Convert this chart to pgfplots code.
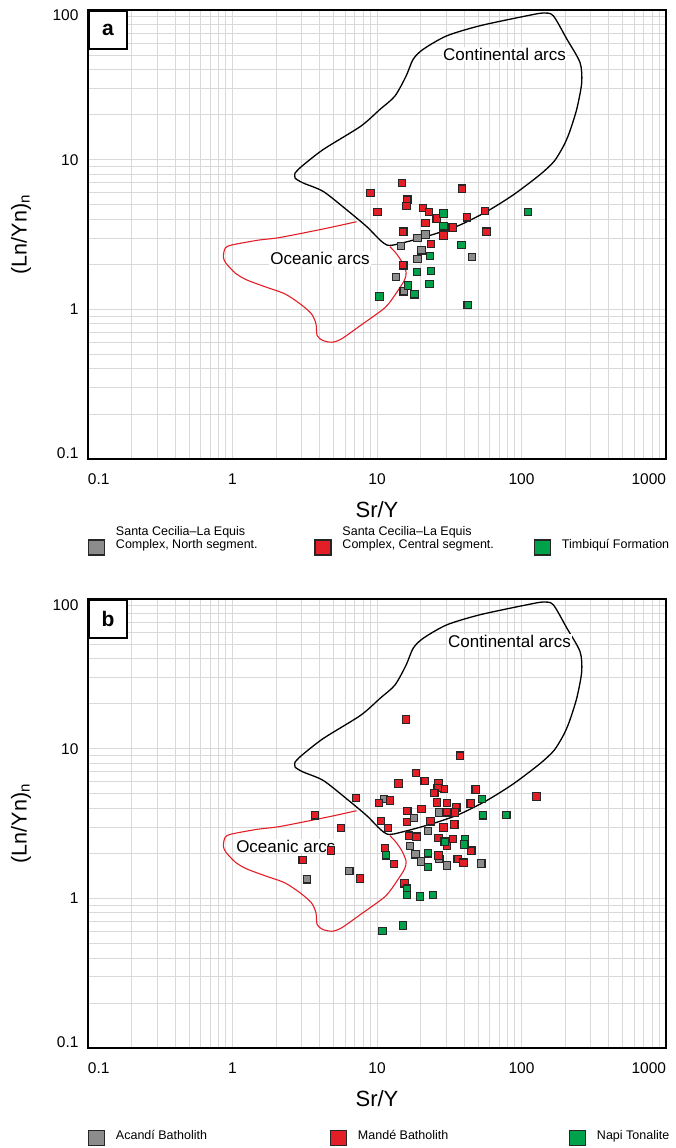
\documentclass[border=0pt]{standalone}
\usepackage{fontspec}
\setmainfont{Liberation Sans}
\usepackage{pgfplots}
\usepackage{pgfplotstable}
\pgfplotsset{compat=1.18}
\definecolor{cgray}{HTML}{8C8C8C}
\definecolor{cred}{HTML}{E41E26}
\definecolor{cgreen}{HTML}{00A14B}
\definecolor{gridc}{HTML}{D9D9D9}

% Continental arcs field (Sr/Y, (La/Yb)n)
\pgfplotstableread{
x y
2.71 8.14
3.01 9.02
4.25 11.7
7.70 16.7
10.5 21.7
13.3 26.6
15.9 36.2
17.8 46.9
20.9 54.7
30.4 67.2
51.6 78.5
109 91.5
142 95.5
166 91.5
206 63.9
254 44.6
261 32.7
241 21.7
214 15.1
195 12.3
168 9.74
134 7.93
87.8 5.82
57.4 4.50
37.5 3.66
25.9 3.22
17.8 2.90
13.0 2.69
11.7 2.69
10.5 2.90
8.49 3.57
6.17 4.62
4.25 6.13
3.09 6.98
2.71 7.54
2.71 8.14
}\contfield

% Oceanic arcs field (open line, closed by the continental boundary)
\pgfplotstableread{
x y
7.21 3.85
4.47 3.48
2.13 3.02
1.51 2.90
0.987 2.69
0.890 2.56
0.864 2.24
0.902 2.03
1.05 1.74
1.26 1.57
1.70 1.41
2.30 1.27
2.93 1.09
3.51 0.936
3.78 0.802
3.85 0.669
4.21 0.620
4.90 0.603
5.70 0.636
7.70 0.781
11.4 1.03
13.7 1.30
15.5 1.57
15.9 1.77
14.9 2.07
13.5 2.38
12.3 2.62
}\oceanfield

% Panel a
\pgfplotstableread{
x y
14.7 2.64
19.1 3.00
21.7 3.16
20.3 2.48
19.1 2.17
45.4 2.23
13.5 1.65
15.3 1.32
}\aGray
\pgfplotstableread{
x y
14.9 7.0
9.0 6.0
38.9 6.4
16.2 5.4
16.0 4.9
10.1 4.46
20.8 4.74
22.9 4.46
25.9 4.04
21.7 3.78
55.8 4.55
42.0 4.12
33.4 3.53
57.2 3.30
15.2 3.30
28.8 3.11
23.7 2.74
15.2 1.97
}\aRed
\pgfplotstableread{
x y
28.9 4.37
111 4.46
28.9 3.59
38.5 2.69
23.3 2.28
18.9 1.77
23.7 1.80
16.4 1.44
23.1 1.48
18.2 1.26
10.4 1.22
42.4 1.07
}\aGreen

% Panel b
\pgfplotstableread{
x y
18.0 3.43
27.0 3.74
22.5 2.82
16.9 2.23
18.5 1.97
20.1 1.76
27.0 1.83
30.5 1.66
52.7 1.71
6.43 1.52
3.29 1.34
11.2 4.62
}\bGray
\pgfplotstableread{
x y
15.9 15.7
37.4 8.97
18.6 6.90
21.4 6.07
14.1 5.85
26.7 5.91
29.1 5.39
26.3 5.45
24.9 5.07
48.2 5.33
127 4.79
7.16 4.67
10.3 4.32
12.3 4.50
26.0 4.36
30.4 4.32
35.4 4.04
44.5 4.30
16.2 3.82
20.3 3.94
30.4 3.76
34.5 3.74
3.71 3.59
10.7 3.29
16.1 3.24
23.5 3.27
5.64 2.96
11.9 2.96
28.8 2.98
34.3 3.12
16.6 2.62
18.8 2.58
26.7 2.53
33.6 2.50
30.4 2.23
11.4 2.17
4.81 2.09
44.9 2.08
26.7 1.93
3.06 1.81
36.2 1.83
39.6 1.73
13.1 1.69
7.63 1.36
15.5 1.26
}\bRed
\pgfplotstableread{
x y
53.3 4.60
54.2 3.59
78.5 3.61
40.8 2.49
29.4 2.39
40.2 2.29
22.5 2.00
11.5 1.94
22.5 1.62
16.1 1.16
16.1 1.05
19.9 1.03
24.5 1.05
15.1 0.659
10.9 0.607
}\bGreen

\newcommand{\legtxt}[2]{\makebox[#1][l]{\raisebox{0pt}[4pt][0pt]{\begin{tabular}[b]{@{}l@{}}#2\end{tabular}}}}
\newcommand{\legsq}[1]{\path[draw=none,fill=none] (0pt,0pt) rectangle (27.4pt,0.1pt); \draw[draw=black!85,line width=1.2pt,fill=#1] (0pt,-7.5pt) rectangle (16pt,7.5pt);}

\begin{document}
\begin{tikzpicture}
\useasboundingbox (0pt,0pt) rectangle (675pt,-1148pt);

% ---------- panel a ----------
\begin{axis}[
    at={(88pt,-459pt)}, anchor=south west,
    scale only axis, width=578pt, height=449pt,
    xmode=log, ymode=log, xmin=0.1, xmax=1000, ymin=0.1, ymax=100,
    clip=false,
    axis line style={line width=2.2pt},
    grid=both,
    major grid style={draw=gridc, line width=0.8pt},
    minor grid style={draw=gridc, line width=0.8pt},
    major tick length=0pt, minor tick length=0pt,
    xtick={0.1,1,10,100,1000},
    xticklabels={\rlap{0.1},\mbox{1},\mbox{10},\mbox{100},\llap{1000}},
    minor xtick={0.2,0.3,0.4,0.5,0.6,0.7,0.8,0.9,2,3,4,5,6,7,8,9,20,30,40,50,60,70,80,90,200,300,400,500,600,700,800,900},
    ytick={0.1,1,10,100},
    yticklabels={\smash{\raisebox{0.5pt}{0.1}},\smash{\raisebox{-5.5pt}{1}},\smash{\raisebox{-5.5pt}{10}},\smash{\raisebox{-11pt}{100}}},
    minor ytick={0.2,0.3,0.4,0.5,0.6,0.7,0.8,0.9,2,3,4,5,6,7,8,9,20,30,40,50,60,70,80,90},
    tick label style={font=\fontsize{15.5}{18}\selectfont},
    xticklabel style={anchor=north, yshift=-11pt},
    yticklabel style={anchor=east, xshift=-6pt},
    xlabel={Sr/Y}, ylabel={(Ln/Yn)\textsubscript{n}},
    x label style={at={(axis description cs:0.5,-0.112)}, anchor=center, font=\fontsize{22}{25}\selectfont},
    y label style={at={(axis description cs:-0.116,0.5)}, anchor=center, font=\fontsize{21.5}{24}\selectfont},
    legend columns=3,
    legend style={at={(axis description cs:0,-0.197)}, anchor=west,
      draw=none, fill=none, inner sep=0pt, outer sep=0pt,
      nodes={inner sep=0pt, outer sep=0pt},
      cells={anchor=center}, column sep=0pt, row sep=0pt,
      font=\fontsize{12.5}{13.2}\selectfont},
  ]
\addplot[forget plot, smooth, tension=0.45, line width=1.3pt, draw=black] table {\contfield};
\addplot[forget plot, smooth, tension=0.45, line width=1.1pt, draw=cred] table {\oceanfield};
\node[fill=white, inner sep=1pt, font=\fontsize{17}{20}\selectfont] at (axis cs:76.3,50.7) {Continental arcs};
\node[fill=white, inner sep=1pt, font=\fontsize{17}{20}\selectfont] at (axis cs:4.03,2.19) {Oceanic arcs};
\addplot[only marks, mark=square*, mark size=3.7pt, mark options={draw=black!85, line width=1.1pt, fill=cgray, solid},
  legend image code/.code={\legsq{cgray}}] table {\aGray};
\addplot[only marks, mark=square*, mark size=3.7pt, mark options={draw=black!85, line width=1.1pt, fill=cred, solid},
  legend image code/.code={\legsq{cred}}] table {\aRed};
\addplot[only marks, mark=square*, mark size=3.7pt, mark options={draw=black!85, line width=1.1pt, fill=cgreen, solid},
  legend image code/.code={\legsq{cgreen}}] table {\aGreen};
\addlegendentry{\legtxt{198.5pt}{Santa Cecilia--La Equis\\Complex, North segment.}}
\addlegendentry{\legtxt{191.5pt}{Santa Cecilia--La Equis\\Complex, Central segment.}}
\addlegendentry{\legtxt{110pt}{Timbiquí Formation}}
\node[draw=black, line width=2pt, fill=white, minimum size=38pt, inner sep=0pt, anchor=north west,
  font=\bfseries\fontsize{21}{24}\selectfont] at (rel axis cs:0,1) {a};
\end{axis}

% ---------- panel b ----------
\begin{axis}[
    at={(88pt,-1048pt)}, anchor=south west,
    scale only axis, width=578pt, height=449pt,
    xmode=log, ymode=log, xmin=0.1, xmax=1000, ymin=0.1, ymax=100,
    clip=false,
    axis line style={line width=2.2pt},
    grid=both,
    major grid style={draw=gridc, line width=0.8pt},
    minor grid style={draw=gridc, line width=0.8pt},
    major tick length=0pt, minor tick length=0pt,
    xtick={0.1,1,10,100,1000},
    xticklabels={\rlap{0.1},\mbox{1},\mbox{10},\mbox{100},\llap{1000}},
    minor xtick={0.2,0.3,0.4,0.5,0.6,0.7,0.8,0.9,2,3,4,5,6,7,8,9,20,30,40,50,60,70,80,90,200,300,400,500,600,700,800,900},
    ytick={0.1,1,10,100},
    yticklabels={\smash{\raisebox{0.5pt}{0.1}},\smash{\raisebox{-5.5pt}{1}},\smash{\raisebox{-5.5pt}{10}},\smash{\raisebox{-11pt}{100}}},
    minor ytick={0.2,0.3,0.4,0.5,0.6,0.7,0.8,0.9,2,3,4,5,6,7,8,9,20,30,40,50,60,70,80,90},
    tick label style={font=\fontsize{15.5}{18}\selectfont},
    xticklabel style={anchor=north, yshift=-11pt},
    yticklabel style={anchor=east, xshift=-6pt},
    xlabel={Sr/Y}, ylabel={(Ln/Yn)\textsubscript{n}},
    x label style={at={(axis description cs:0.5,-0.112)}, anchor=center, font=\fontsize{22}{25}\selectfont},
    y label style={at={(axis description cs:-0.116,0.5)}, anchor=center, font=\fontsize{21.5}{24}\selectfont},
    legend columns=3,
    legend style={at={(axis description cs:0,-0.2004)}, anchor=west,
      draw=none, fill=none, inner sep=0pt, outer sep=0pt,
      nodes={inner sep=0pt, outer sep=0pt},
      cells={anchor=center}, column sep=0pt, row sep=0pt,
      font=\fontsize{12.5}{13.2}\selectfont},
  ]
\addplot[forget plot, smooth, tension=0.45, line width=1.3pt, draw=black] table {\contfield};
\addplot[forget plot, smooth, tension=0.45, line width=1.1pt, draw=cred] table {\oceanfield};
\node[fill=white, inner sep=1pt, font=\fontsize{17}{20}\selectfont] at (axis cs:82.6,52.0) {Continental arcs};
\node[fill=white, inner sep=1pt, font=\fontsize{17}{20}\selectfont] at (axis cs:2.34,2.23) {Oceanic arcs};
\addplot[only marks, mark=square*, mark size=3.7pt, mark options={draw=black!85, line width=1.1pt, fill=cgray, solid},
  legend image code/.code={\legsq{cgray}}] table {\bGray};
\addplot[only marks, mark=square*, mark size=3.7pt, mark options={draw=black!85, line width=1.1pt, fill=cred, solid},
  legend image code/.code={\legsq{cred}}] table {\bRed};
\addplot[only marks, mark=square*, mark size=3.7pt, mark options={draw=black!85, line width=1.1pt, fill=cgreen, solid},
  legend image code/.code={\legsq{cgreen}}] table {\bGreen};
\addlegendentry{\legtxt{214pt}{Acandí Batholith}}
\addlegendentry{\legtxt{211pt}{Mandé Batholith}}
\addlegendentry{\legtxt{80pt}{Napi Tonalite}}
\node[draw=black, line width=2pt, fill=white, minimum size=38pt, inner sep=0pt, anchor=north west,
  font=\bfseries\fontsize{21}{24}\selectfont] at (rel axis cs:0,1) {b};
\end{axis}
\end{tikzpicture}
\end{document}
